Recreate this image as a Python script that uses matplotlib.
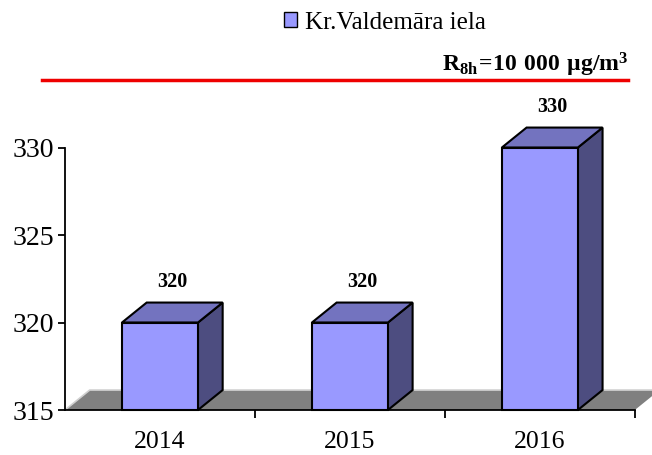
import numpy as np
import matplotlib.pyplot as plt
from matplotlib.patches import Polygon, Patch
from matplotlib.lines import Line2D

plt.rcParams['font.family'] = ['Liberation Serif', 'DejaVu Serif']
plt.rcParams['mathtext.fontset'] = 'custom'
plt.rcParams['mathtext.rm'] = 'Liberation Serif'
plt.rcParams['mathtext.bf'] = 'Liberation Serif:bold'

# Dati
years = ['2014', '2015', '2016']
values = [320, 320, 330]
series = 'Kr.Valdemāra iela'
y_ticks = [315, 320, 325, 330]

base = 315
front = '#9999FF'
top_c = '#7373BF'
side_c = '#4D4D80'

fig = plt.figure(figsize=(6.52, 4.55), dpi=100)
ax = fig.add_axes([0.0997, 0.0989, 0.874, 0.5769])

x = np.arange(len(years))
w = 0.4
dx, dy = 0.13, 1.14   # dziļuma nobīde datu vienībās

ax.set_xlim(-0.5, 2.5)
ax.set_ylim(base, 330)

# grīda
x0, x1 = -0.5, 2.5
floor = Polygon([(x0, base), (x1, base), (x1 + dx, base + dy), (x0 + dx, base + dy)],
                closed=True, facecolor='#808080', edgecolor='none', zorder=1, clip_on=False)
ax.add_patch(floor)
ax.plot([x0, x0 + dx, x1 + dx], [base, base + dy, base + dy], color='#d0d0d0', lw=1.2,
        zorder=1.5, clip_on=False)

# stabiņi
ax.bar(x, np.array(values) - base, bottom=base, width=w, color=front,
       edgecolor='black', linewidth=1.5, zorder=3, clip_on=False)
for xi, v in zip(x, values):
    r = xi + w / 2
    l = xi - w / 2
    side = Polygon([(r, base), (r + dx, base + dy), (r + dx, v + dy), (r, v)], closed=True,
                   facecolor=side_c, edgecolor='black', linewidth=1.5, zorder=2.5, clip_on=False)
    top = Polygon([(l, v), (r, v), (r + dx, v + dy), (l + dx, v + dy)], closed=True,
                  facecolor=top_c, edgecolor='black', linewidth=1.5, zorder=2.5, clip_on=False)
    ax.add_patch(side)
    ax.add_patch(top)
    ax.text(xi + dx / 2, v + dy + 0.6, str(v), ha='center', va='bottom',
            fontsize=14.5, fontweight='bold', clip_on=False)

# asis
ax.spines['top'].set_visible(False)
ax.spines['right'].set_visible(False)
ax.spines['left'].set_linewidth(1.3)
ax.spines['bottom'].set_linewidth(1.3)
ax.spines['bottom'].set_zorder(4)
ax.set_yticks(y_ticks)
ax.set_yticklabels([str(t) for t in y_ticks], fontsize=20)
ax.tick_params(axis='y', length=5, width=1.3, pad=3)
ax.set_xticks([0.5, 1.5, 2.5])
ax.set_xticklabels([])
ax.tick_params(axis='x', which='major', length=6, width=1.3)
ax.set_xticks(x, minor=True)
ax.set_xticklabels(years, minor=True, fontsize=18.5)
ax.tick_params(axis='x', which='minor', length=0, pad=15)

# leģenda
handle = Patch(facecolor=front, edgecolor='black', linewidth=1)
fig.legend([handle], [series], loc='center', bbox_to_anchor=(0.59, 0.95), frameon=False,
           fontsize=18, handlelength=0.55, handleheight=0.55, handletextpad=0.3)

# robežvērtības līnija
fig.add_artist(Line2D([42 / 652, 628 / 652], [1 - 80 / 455, 1 - 80 / 455],
                      transform=fig.transFigure, color='#EE0000', lw=2.5))
fig.text(628 / 652, 1 - 65 / 455, r'$\mathbf{R_{8h}\!=\!10\ 000\ µg/m^3}$',
         ha='right', va='center', fontsize=17)

fig.savefig('out.png', dpi=100)
